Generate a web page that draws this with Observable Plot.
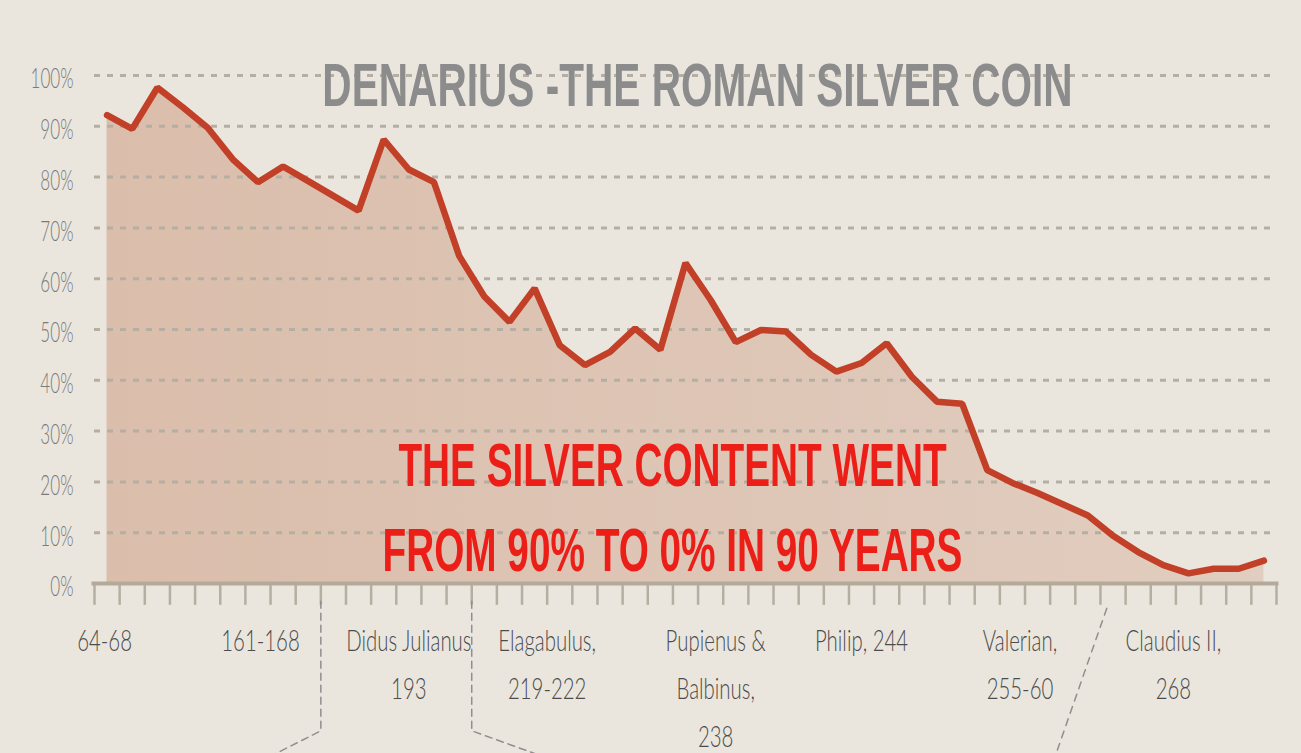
<!DOCTYPE html>
<html>
<head>
<meta charset="utf-8">
<script src="https://cdn.jsdelivr.net/npm/d3@7"></script>
<script src="https://cdn.jsdelivr.net/npm/@observablehq/plot@0.6"></script>
<style>
  html, body { margin: 0; padding: 0; background: #eae6de; }
  #chart { width: 1301px; height: 753px; overflow: hidden; }
</style>
</head>
<body>
<div id="chart"></div>
<script>
// ---- data (silver content of the denarius, %, one value per period) ----
const silverPct = [
  92.2, 89.5, 97.6, 93.8, 89.7, 83.5, 79.0, 82.1, 79.2, 76.3,
  73.4, 87.4, 81.5, 79.0, 64.5, 56.5, 51.5, 58.1, 46.9, 43.0,
  45.6, 50.2, 46.0, 63.1, 55.8, 47.5, 49.9, 49.6, 45.0, 41.7,
  43.4, 47.3, 40.7, 35.8, 35.4, 22.3, 19.8, 17.8, 15.6, 13.4,
  9.4, 6.2, 3.6, 2.0, 2.9, 2.9, 4.5
];
// period labels and the period (tick index) each one sits under
const periodLabels = [
  "64-68", "161-168", "Didus Julianus\n193", "Elagabulus,\n219-222",
  "Pupienus &\nBalbinus,\n238", "Philip, 244", "Valerian,\n255-60", "Claudius II,\n268"
];
const labelPeriod = [0.4, 6.6, 12.5, 18.0, 24.7, 30.5, 36.8, 42.9];
const yTicks = [0, 10, 20, 30, 40, 50, 60, 70, 80, 90, 100];
const gridTicks = [10, 20, 30, 40, 50, 60, 70, 80, 90, 100];
const tickCount = 48;
const titleText = "DENARIUS -THE ROMAN SILVER COIN";
const noteText = "THE SILVER CONTENT WENT\nFROM 90% TO 0% IN 90 YEARS";
// decorative dashed connectors below the axis (tick index, % units)
const connectorTicks = [9, 15];
const connectorEnds = [7.0, 17.8];
const slashTick = [40.25, 38.2];

// ---- tables built from the arrays ----
const series = silverPct.map((v, i) => ({period: i + 0.5, pct: v}));
const labels = periodLabels.map((t, i) => ({period: labelPeriod[i], text: t}));
const connectors = [];
connectorTicks.forEach((t, k) => {
  connectors.push({id: k, x: t, y: -3.5}, {id: k, x: t, y: -29}, {id: k, x: connectorEnds[k], y: -34});
});
const slash = [{x: slashTick[0], y: -4.9}, {x: slashTick[1], y: -34}];

const boldFont = "'Liberation Sans', Arial, sans-serif";
const lightFont = "Lato, 'Open Sans', sans-serif";
const colors = {ylab: "#7a7a7a", xlab: "#4c4c4c", title: "#8c8c8c", note: "#ec1f18"};

const svg = Plot.plot({
  width: 1301,
  height: 753,
  marginLeft: 94,
  marginRight: 25,
  marginTop: 75,
  marginBottom: 170,
  x: {domain: [0, tickCount - 1], axis: null},
  y: {domain: [0, 100], axis: null},
  style: {background: "#eae6de", overflow: "visible"},
  marks: [
    Plot.areaY(series, {x: "period", y: "pct", fill: "url(#areaFill)"}),
    Plot.ruleY(gridTicks, {x1: 0, x2: tickCount - 1, stroke: "#b5aea2", strokeWidth: 3, strokeDasharray: "6,7"}),
    Plot.ruleX(d3.range(tickCount), {y1: -0.4, y2: -4.3, stroke: "#b6aea1", strokeWidth: 2.5}),
    Plot.ruleY([0], {x1: -0.1, x2: tickCount - 0.9, stroke: "#b3aa9a", strokeWidth: 4}),
    Plot.line(connectors, {x: "x", y: "y", z: "id", stroke: "#8f8f8f", strokeWidth: 1.5, strokeDasharray: "7,5"}),
    Plot.line(slash, {x: "x", y: "y", stroke: "#8f8f8f", strokeWidth: 1.5, strokeDasharray: "7,6"}),
    Plot.lineY(series, {x: "period", y: "pct", stroke: "#c23f28", strokeWidth: 6.5, strokeLinejoin: "miter"}),
    Plot.text(yTicks, {
      y: d => d, text: d => `${d}%`, frameAnchor: "left", textAnchor: "end",
      dx: -21, dy: 4, fontSize: 28, fontFamily: lightFont, fontWeight: 300, fill: colors.ylab
    }),
    Plot.text(labels, {
      x: "period", text: "text", frameAnchor: "bottom", lineAnchor: "top", dy: 33,
      fontSize: 30, lineHeight: 1.6, fontFamily: lightFont, fontWeight: 300, fill: colors.xlab
    }),
    Plot.text([titleText], {
      text: d => d, frameAnchor: "top", lineAnchor: "top", dx: 12, dy: -14,
      fontSize: 62, fontWeight: "bold", fontFamily: boldFont, fill: colors.title
    }),
    Plot.text([noteText], {
      text: d => d, frameAnchor: "top", lineAnchor: "top", dx: -13, dy: 350, lineHeight: 1.37,
      fontSize: 62, fontWeight: "bold", fontFamily: boldFont, fill: colors.note
    })
  ]
});

// gradient for the area under the line
const defs = d3.select(svg).insert("defs", ":first-child");
const grad = defs.append("linearGradient").attr("id", "areaFill")
  .attr("x1", 0).attr("x2", 1).attr("y1", 0).attr("y2", 0);
grad.append("stop").attr("offset", "0%").attr("stop-color", "#c4805f").attr("stop-opacity", 0.40);
grad.append("stop").attr("offset", "100%").attr("stop-color", "#c4805f").attr("stop-opacity", 0.24);

// condensed look: squeeze each text horizontally around its anchor, by its colour
const squeezeBy = {
  [colors.ylab]: 0.61, [colors.xlab]: 0.68, [colors.title]: 0.655, [colors.note]: 0.625
};
svg.querySelectorAll("text").forEach(t => {
  let fill = null;
  for (let n = t; n && n !== svg && !fill; n = n.parentNode) {
    if (n.getAttribute) fill = n.getAttribute("fill");
  }
  const s = squeezeBy[(fill || "").toLowerCase()];
  if (!s) return;
  const tr = t.getAttribute("transform") || "";
  const x = +(t.getAttribute("x") || 0);
  t.setAttribute("transform", `${tr} translate(${x},0) scale(${s},1) translate(${-x},0)`);
});

document.getElementById("chart").appendChild(svg);
</script>
</body>
</html>
